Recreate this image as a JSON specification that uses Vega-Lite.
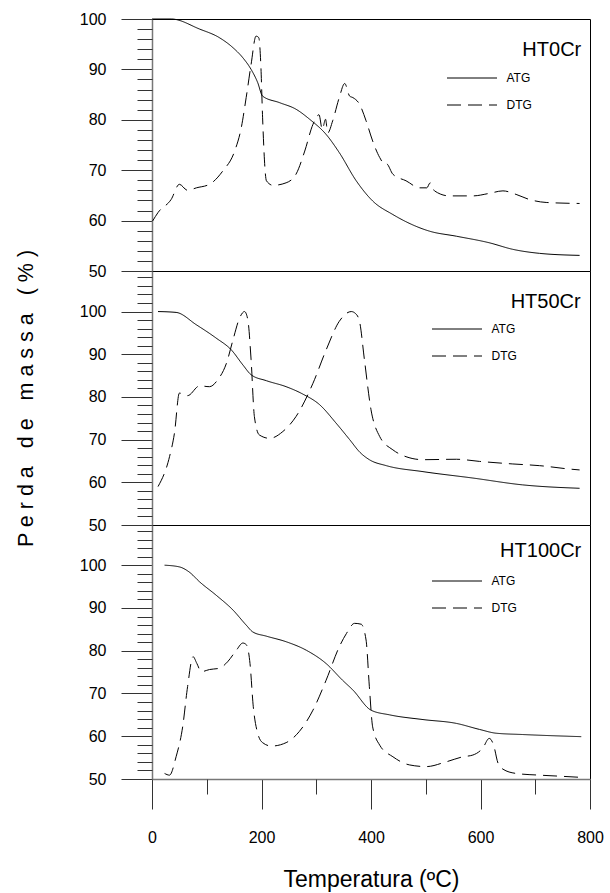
{
  "$schema": "https://vega.github.io/schema/vega-lite/v6.json",
  "padding": {"left": 15, "top": 10, "right": 5, "bottom": 0},
  "bounds": "flush",
  "spacing": 0,
  "config": {
    "font": "Liberation Sans",
    "view": {"stroke": "black", "strokeWidth": 1},
    "axis": {"labelFontSize": 16, "labelColor": "black", "tickColor": "#333", "domainColor": "#777", "domainWidth": 1.5, "grid": false, "titleFontWeight": "normal", "titleColor": "black", "labelOverlap": false, "labelFlush": false, "tickCount": 100, "format": "d"},
    "legend": {"orient": "none", "title": null, "symbolType": "stroke", "symbolSize": 2500, "symbolStrokeWidth": 1, "symbolStrokeColor": "black", "clipHeight": 14, "rowPadding": 13, "labelFontSize": 12, "labelOffset": 9, "padding": 0, "labelColor": "black"},
    "line": {"color": "black", "strokeWidth": 1, "interpolate": "monotone"},
    "text": {"font": "Liberation Sans", "color": "black", "fontSize": 20, "align": "right", "baseline": "alphabetic"}
  },
  "data": {"values": [
    {"s":"HT0Cr","c":"ATG","t":0,"v":100},{"s":"HT0Cr","c":"ATG","t":35,"v":100},{"s":"HT0Cr","c":"ATG","t":87,"v":98},{"s":"HT0Cr","c":"ATG","t":123,"v":96.3},{"s":"HT0Cr","c":"ATG","t":148,"v":94.3},{"s":"HT0Cr","c":"ATG","t":166,"v":92.3},{"s":"HT0Cr","c":"ATG","t":181,"v":90},{"s":"HT0Cr","c":"ATG","t":193,"v":87.4},{"s":"HT0Cr","c":"ATG","t":202,"v":84.7},{"s":"HT0Cr","c":"ATG","t":233,"v":83.4},{"s":"HT0Cr","c":"ATG","t":263,"v":82.1},{"s":"HT0Cr","c":"ATG","t":288,"v":80.1},{"s":"HT0Cr","c":"ATG","t":318,"v":77.1},{"s":"HT0Cr","c":"ATG","t":342,"v":73.5},{"s":"HT0Cr","c":"ATG","t":373,"v":67.9},{"s":"HT0Cr","c":"ATG","t":403,"v":63.9},{"s":"HT0Cr","c":"ATG","t":440,"v":61.2},{"s":"HT0Cr","c":"ATG","t":507,"v":57.9},{"s":"HT0Cr","c":"ATG","t":556,"v":56.9},{"s":"HT0Cr","c":"ATG","t":616,"v":55.6},{"s":"HT0Cr","c":"ATG","t":659,"v":54.3},{"s":"HT0Cr","c":"ATG","t":708,"v":53.5},{"s":"HT0Cr","c":"ATG","t":781,"v":53.1},
    {"s":"HT0Cr","c":"DTG","t":1,"v":59.9},{"s":"HT0Cr","c":"DTG","t":11,"v":61.6},{"s":"HT0Cr","c":"DTG","t":35,"v":64.2},{"s":"HT0Cr","c":"DTG","t":50,"v":67.2},{"s":"HT0Cr","c":"DTG","t":65,"v":66.0},{"s":"HT0Cr","c":"DTG","t":81,"v":66.5},{"s":"HT0Cr","c":"DTG","t":105,"v":67.2},{"s":"HT0Cr","c":"DTG","t":129,"v":69.8},{"s":"HT0Cr","c":"DTG","t":151,"v":73.8},{"s":"HT0Cr","c":"DTG","t":163,"v":78.4},{"s":"HT0Cr","c":"DTG","t":172,"v":84.4},{"s":"HT0Cr","c":"DTG","t":181,"v":91},{"s":"HT0Cr","c":"DTG","t":190,"v":96.6},{"s":"HT0Cr","c":"DTG","t":195,"v":96.3},{"s":"HT0Cr","c":"DTG","t":199,"v":90.3},{"s":"HT0Cr","c":"DTG","t":202,"v":80.4},{"s":"HT0Cr","c":"DTG","t":209,"v":67.9},{"s":"HT0Cr","c":"DTG","t":221,"v":67.0},{"s":"HT0Cr","c":"DTG","t":245,"v":67.5},{"s":"HT0Cr","c":"DTG","t":263,"v":69.2},{"s":"HT0Cr","c":"DTG","t":279,"v":73.8},{"s":"HT0Cr","c":"DTG","t":294,"v":79.1},{"s":"HT0Cr","c":"DTG","t":305,"v":81.0},{"s":"HT0Cr","c":"DTG","t":311,"v":78.1},{"s":"HT0Cr","c":"DTG","t":317,"v":80.1},{"s":"HT0Cr","c":"DTG","t":321,"v":77.4},{"s":"HT0Cr","c":"DTG","t":330,"v":79.8},{"s":"HT0Cr","c":"DTG","t":342,"v":84.4},{"s":"HT0Cr","c":"DTG","t":352,"v":87.2},{"s":"HT0Cr","c":"DTG","t":361,"v":84.7},{"s":"HT0Cr","c":"DTG","t":367,"v":84.4},{"s":"HT0Cr","c":"DTG","t":379,"v":83.1},{"s":"HT0Cr","c":"DTG","t":391,"v":79.8},{"s":"HT0Cr","c":"DTG","t":403,"v":75.8},{"s":"HT0Cr","c":"DTG","t":416,"v":72.5},{"s":"HT0Cr","c":"DTG","t":425,"v":71.2},{"s":"HT0Cr","c":"DTG","t":428,"v":71.3},{"s":"HT0Cr","c":"DTG","t":440,"v":69.2},{"s":"HT0Cr","c":"DTG","t":464,"v":67.9},{"s":"HT0Cr","c":"DTG","t":489,"v":66.5},{"s":"HT0Cr","c":"DTG","t":502,"v":66.5},{"s":"HT0Cr","c":"DTG","t":508,"v":67.5},{"s":"HT0Cr","c":"DTG","t":516,"v":65.9},{"s":"HT0Cr","c":"DTG","t":543,"v":64.9},{"s":"HT0Cr","c":"DTG","t":586,"v":64.9},{"s":"HT0Cr","c":"DTG","t":616,"v":65.4},{"s":"HT0Cr","c":"DTG","t":641,"v":65.9},{"s":"HT0Cr","c":"DTG","t":665,"v":65.2},{"s":"HT0Cr","c":"DTG","t":689,"v":64.2},{"s":"HT0Cr","c":"DTG","t":720,"v":63.6},{"s":"HT0Cr","c":"DTG","t":781,"v":63.4},
    {"s":"HT50Cr","c":"ATG","t":11,"v":100},{"s":"HT50Cr","c":"ATG","t":44,"v":99.8},{"s":"HT50Cr","c":"ATG","t":81,"v":96.9},{"s":"HT50Cr","c":"ATG","t":117,"v":93.8},{"s":"HT50Cr","c":"ATG","t":145,"v":91.0},{"s":"HT50Cr","c":"ATG","t":166,"v":87.5},{"s":"HT50Cr","c":"ATG","t":181,"v":85.2},{"s":"HT50Cr","c":"ATG","t":209,"v":83.8},{"s":"HT50Cr","c":"ATG","t":245,"v":82.4},{"s":"HT50Cr","c":"ATG","t":275,"v":80.7},{"s":"HT50Cr","c":"ATG","t":306,"v":78.2},{"s":"HT50Cr","c":"ATG","t":336,"v":73.9},{"s":"HT50Cr","c":"ATG","t":361,"v":70.0},{"s":"HT50Cr","c":"ATG","t":380,"v":67.0},{"s":"HT50Cr","c":"ATG","t":397,"v":65.3},{"s":"HT50Cr","c":"ATG","t":428,"v":63.9},{"s":"HT50Cr","c":"ATG","t":495,"v":62.5},{"s":"HT50Cr","c":"ATG","t":586,"v":61.0},{"s":"HT50Cr","c":"ATG","t":677,"v":59.4},{"s":"HT50Cr","c":"ATG","t":781,"v":58.6},
    {"s":"HT50Cr","c":"DTG","t":11,"v":59.0},{"s":"HT50Cr","c":"DTG","t":32,"v":66.0},{"s":"HT50Cr","c":"DTG","t":41,"v":71.5},{"s":"HT50Cr","c":"DTG","t":50,"v":80.9},{"s":"HT50Cr","c":"DTG","t":65,"v":80.3},{"s":"HT50Cr","c":"DTG","t":87,"v":82.6},{"s":"HT50Cr","c":"DTG","t":105,"v":82.4},{"s":"HT50Cr","c":"DTG","t":120,"v":84.0},{"s":"HT50Cr","c":"DTG","t":136,"v":87.9},{"s":"HT50Cr","c":"DTG","t":148,"v":93.4},{"s":"HT50Cr","c":"DTG","t":160,"v":98.5},{"s":"HT50Cr","c":"DTG","t":169,"v":100},{"s":"HT50Cr","c":"DTG","t":175,"v":98.1},{"s":"HT50Cr","c":"DTG","t":181,"v":88.7},{"s":"HT50Cr","c":"DTG","t":187,"v":75.4},{"s":"HT50Cr","c":"DTG","t":196,"v":71.1},{"s":"HT50Cr","c":"DTG","t":215,"v":70.3},{"s":"HT50Cr","c":"DTG","t":239,"v":71.9},{"s":"HT50Cr","c":"DTG","t":263,"v":75.4},{"s":"HT50Cr","c":"DTG","t":294,"v":83.2},{"s":"HT50Cr","c":"DTG","t":318,"v":91.0},{"s":"HT50Cr","c":"DTG","t":342,"v":97.7},{"s":"HT50Cr","c":"DTG","t":364,"v":100},{"s":"HT50Cr","c":"DTG","t":372,"v":99.5},{"s":"HT50Cr","c":"DTG","t":379,"v":97.7},{"s":"HT50Cr","c":"DTG","t":388,"v":88.7},{"s":"HT50Cr","c":"DTG","t":400,"v":77.0},{"s":"HT50Cr","c":"DTG","t":416,"v":70.7},{"s":"HT50Cr","c":"DTG","t":440,"v":67.6},{"s":"HT50Cr","c":"DTG","t":464,"v":66.0},{"s":"HT50Cr","c":"DTG","t":495,"v":65.3},{"s":"HT50Cr","c":"DTG","t":556,"v":65.4},{"s":"HT50Cr","c":"DTG","t":598,"v":64.9},{"s":"HT50Cr","c":"DTG","t":659,"v":64.3},{"s":"HT50Cr","c":"DTG","t":708,"v":63.9},{"s":"HT50Cr","c":"DTG","t":763,"v":63.1},{"s":"HT50Cr","c":"DTG","t":781,"v":62.9},
    {"s":"HT100Cr","c":"ATG","t":23,"v":100},{"s":"HT100Cr","c":"ATG","t":50,"v":99.6},{"s":"HT100Cr","c":"ATG","t":68,"v":98.4},{"s":"HT100Cr","c":"ATG","t":87,"v":96.1},{"s":"HT100Cr","c":"ATG","t":117,"v":93.0},{"s":"HT100Cr","c":"ATG","t":148,"v":89.5},{"s":"HT100Cr","c":"ATG","t":172,"v":86.0},{"s":"HT100Cr","c":"ATG","t":184,"v":84.4},{"s":"HT100Cr","c":"ATG","t":209,"v":83.4},{"s":"HT100Cr","c":"ATG","t":245,"v":82.1},{"s":"HT100Cr","c":"ATG","t":282,"v":80.1},{"s":"HT100Cr","c":"ATG","t":318,"v":77.0},{"s":"HT100Cr","c":"ATG","t":348,"v":73.1},{"s":"HT100Cr","c":"ATG","t":367,"v":70.8},{"s":"HT100Cr","c":"ATG","t":400,"v":66.1},{"s":"HT100Cr","c":"ATG","t":434,"v":65.0},{"s":"HT100Cr","c":"ATG","t":495,"v":63.9},{"s":"HT100Cr","c":"ATG","t":556,"v":63.0},{"s":"HT100Cr","c":"ATG","t":598,"v":61.6},{"s":"HT100Cr","c":"ATG","t":629,"v":60.7},{"s":"HT100Cr","c":"ATG","t":677,"v":60.4},{"s":"HT100Cr","c":"ATG","t":784,"v":59.9},
    {"s":"HT100Cr","c":"DTG","t":23,"v":51.3},{"s":"HT100Cr","c":"DTG","t":32,"v":50.9},{"s":"HT100Cr","c":"DTG","t":44,"v":55.2},{"s":"HT100Cr","c":"DTG","t":56,"v":62.2},{"s":"HT100Cr","c":"DTG","t":65,"v":71.6},{"s":"HT100Cr","c":"DTG","t":75,"v":78.6},{"s":"HT100Cr","c":"DTG","t":82,"v":77.0},{"s":"HT100Cr","c":"DTG","t":90,"v":75.1},{"s":"HT100Cr","c":"DTG","t":105,"v":75.6},{"s":"HT100Cr","c":"DTG","t":123,"v":75.9},{"s":"HT100Cr","c":"DTG","t":138,"v":77.4},{"s":"HT100Cr","c":"DTG","t":154,"v":80.1},{"s":"HT100Cr","c":"DTG","t":166,"v":81.8},{"s":"HT100Cr","c":"DTG","t":173,"v":81.3},{"s":"HT100Cr","c":"DTG","t":179,"v":77.0},{"s":"HT100Cr","c":"DTG","t":185,"v":66.9},{"s":"HT100Cr","c":"DTG","t":193,"v":60.7},{"s":"HT100Cr","c":"DTG","t":202,"v":58.5},{"s":"HT100Cr","c":"DTG","t":218,"v":57.7},{"s":"HT100Cr","c":"DTG","t":245,"v":58.5},{"s":"HT100Cr","c":"DTG","t":269,"v":61.1},{"s":"HT100Cr","c":"DTG","t":294,"v":66.1},{"s":"HT100Cr","c":"DTG","t":318,"v":73.1},{"s":"HT100Cr","c":"DTG","t":342,"v":80.9},{"s":"HT100Cr","c":"DTG","t":355,"v":84.0},{"s":"HT100Cr","c":"DTG","t":370,"v":86.4},{"s":"HT100Cr","c":"DTG","t":382,"v":86.2},{"s":"HT100Cr","c":"DTG","t":391,"v":82.5},{"s":"HT100Cr","c":"DTG","t":397,"v":71.6},{"s":"HT100Cr","c":"DTG","t":403,"v":62.2},{"s":"HT100Cr","c":"DTG","t":416,"v":57.9},{"s":"HT100Cr","c":"DTG","t":440,"v":55.2},{"s":"HT100Cr","c":"DTG","t":470,"v":53.3},{"s":"HT100Cr","c":"DTG","t":501,"v":52.9},{"s":"HT100Cr","c":"DTG","t":537,"v":54.0},{"s":"HT100Cr","c":"DTG","t":568,"v":55.2},{"s":"HT100Cr","c":"DTG","t":586,"v":55.6},{"s":"HT100Cr","c":"DTG","t":604,"v":57.2},{"s":"HT100Cr","c":"DTG","t":616,"v":59.5},{"s":"HT100Cr","c":"DTG","t":624,"v":57.9},{"s":"HT100Cr","c":"DTG","t":632,"v":53.7},{"s":"HT100Cr","c":"DTG","t":641,"v":52.3},{"s":"HT100Cr","c":"DTG","t":665,"v":51.3},{"s":"HT100Cr","c":"DTG","t":708,"v":50.9},{"s":"HT100Cr","c":"DTG","t":738,"v":50.7},{"s":"HT100Cr","c":"DTG","t":781,"v":50.4}
  ]},
  "resolve": {"scale": {"strokeDash": "independent"}, "legend": {"strokeDash": "independent"}},
  "vconcat": [
    {
      "width": 438, "height": 252,
      "resolve": {"axis": {"y": "independent"}},
      "layer": [
        {
          "transform": [{"filter": "datum.s === 'HT0Cr' && datum.c === 'ATG'"}],
          "mark": "line",
          "encoding": {
            "x": {"field": "t", "type": "quantitative", "scale": {"domain": [0, 800], "nice": false}, "axis": null},
            "y": {"field": "v", "type": "quantitative", "scale": {"domain": [50, 100], "nice": false, "zero": false},
              "axis": {"orient": "left", "values": [50, 60, 70, 80, 90, 100], "tickSize": 31, "labelPadding": 15, "title": null}},
            "strokeDash": {"field": "c", "type": "nominal", "scale": {"domain": ["ATG", "DTG"], "range": [[1, 0], [14, 7]]}, "legend": {"legendX": 294.5, "legendY": 52}}
          }
        },
        {
          "transform": [{"filter": "datum.s === 'HT0Cr' && datum.c === 'DTG'"}],
          "mark": "line",
          "encoding": {
            "x": {"field": "t", "type": "quantitative", "axis": null},
            "y": {"field": "v", "type": "quantitative",
              "axis": {"orient": "left", "values": [52,54,56,58,62,64,66,68,72,74,76,78,82,84,86,88,92,94,96,98], "tickSize": 15, "labels": false, "domain": false, "title": null}},
            "strokeDash": {"field": "c", "type": "nominal", "legend": {"legendX": 294.5, "legendY": 52}}
          }
        },
        {
          "data": {"values": [{}]},
          "mark": "text",
          "encoding": {"x": {"datum": 784, "type": "quantitative", "axis": null}, "y": {"datum": 92.7, "type": "quantitative", "axis": null}, "text": {"value": "HT0Cr"}}
        }
      ]
    },
    {
      "width": 438, "height": 254,
      "resolve": {"axis": {"y": "independent"}},
      "layer": [
        {
          "transform": [{"filter": "datum.s === 'HT50Cr' && datum.c === 'ATG'"}],
          "mark": "line",
          "encoding": {
            "x": {"field": "t", "type": "quantitative", "scale": {"domain": [0, 800], "nice": false}, "axis": null},
            "y": {"field": "v", "type": "quantitative", "scale": {"domain": [50, 109.5], "nice": false, "zero": false},
              "axis": {"orient": "left", "values": [50, 60, 70, 80, 90, 100], "tickSize": 31, "labelPadding": 15, "title": "P e r d a \u00a0 d e \u00a0 m a s s a \u00a0 ( % )", "titleFontSize": 21.5, "titleX": -119.5, "titleBaseline": "alphabetic"}},
            "strokeDash": {"field": "c", "type": "nominal", "scale": {"domain": ["ATG", "DTG"], "range": [[1, 0], [14, 7]]}, "legend": {"legendX": 279.5, "legendY": 51}}
          }
        },
        {
          "transform": [{"filter": "datum.s === 'HT50Cr' && datum.c === 'DTG'"}],
          "mark": "line",
          "encoding": {
            "x": {"field": "t", "type": "quantitative", "axis": null},
            "y": {"field": "v", "type": "quantitative",
              "axis": {"orient": "left", "values": [52,54,56,58,62,64,66,68,72,74,76,78,82,84,86,88,92,94,96,98,102,104,106,108], "tickSize": 15, "labels": false, "domain": false, "title": null}},
            "strokeDash": {"field": "c", "type": "nominal", "legend": {"legendX": 279.5, "legendY": 51}}
          }
        },
        {
          "data": {"values": [{}]},
          "mark": "text",
          "encoding": {"x": {"datum": 783, "type": "quantitative", "axis": null}, "y": {"datum": 100.8, "type": "quantitative", "axis": null}, "text": {"value": "HT50Cr"}}
        }
      ]
    },
    {
      "width": 438, "height": 254,
      "resolve": {"axis": {"y": "independent", "x": "independent"}},
      "layer": [
        {
          "transform": [{"filter": "datum.s === 'HT100Cr' && datum.c === 'ATG'"}],
          "mark": "line",
          "encoding": {
            "x": {"field": "t", "type": "quantitative", "scale": {"domain": [0, 800], "nice": false},
              "axis": {"orient": "bottom", "values": [0, 200, 400, 600, 800], "tickSize": 30, "labelPadding": 20, "title": "Temperatura (ºC)", "titleFontSize": 23, "titleY": 107, "titleBaseline": "alphabetic"}},
            "y": {"field": "v", "type": "quantitative", "scale": {"domain": [50, 109.4], "nice": false, "zero": false},
              "axis": {"orient": "left", "values": [50, 60, 70, 80, 90, 100], "tickSize": 31, "labelPadding": 15, "title": null}},
            "strokeDash": {"field": "c", "type": "nominal", "scale": {"domain": ["ATG", "DTG"], "range": [[1, 0], [14, 7]]}, "legend": {"legendX": 279.5, "legendY": 49}}
          }
        },
        {
          "transform": [{"filter": "datum.s === 'HT100Cr' && datum.c === 'DTG'"}],
          "mark": "line",
          "encoding": {
            "x": {"field": "t", "type": "quantitative",
              "axis": {"orient": "bottom", "values": [100, 300, 500, 700], "tickSize": 15, "labels": false, "domain": false, "title": null}},
            "y": {"field": "v", "type": "quantitative",
              "axis": {"orient": "left", "values": [52,54,56,58,62,64,66,68,72,74,76,78,82,84,86,88,92,94,96,98,102,104,106,108], "tickSize": 15, "labels": false, "domain": false, "title": null}},
            "strokeDash": {"field": "c", "type": "nominal", "legend": {"legendX": 279.5, "legendY": 49}}
          }
        },
        {
          "data": {"values": [{}]},
          "mark": "text",
          "encoding": {"x": {"datum": 784, "type": "quantitative", "axis": null}, "y": {"datum": 101.8, "type": "quantitative", "axis": null}, "text": {"value": "HT100Cr"}}
        }
      ]
    }
  ]
}
